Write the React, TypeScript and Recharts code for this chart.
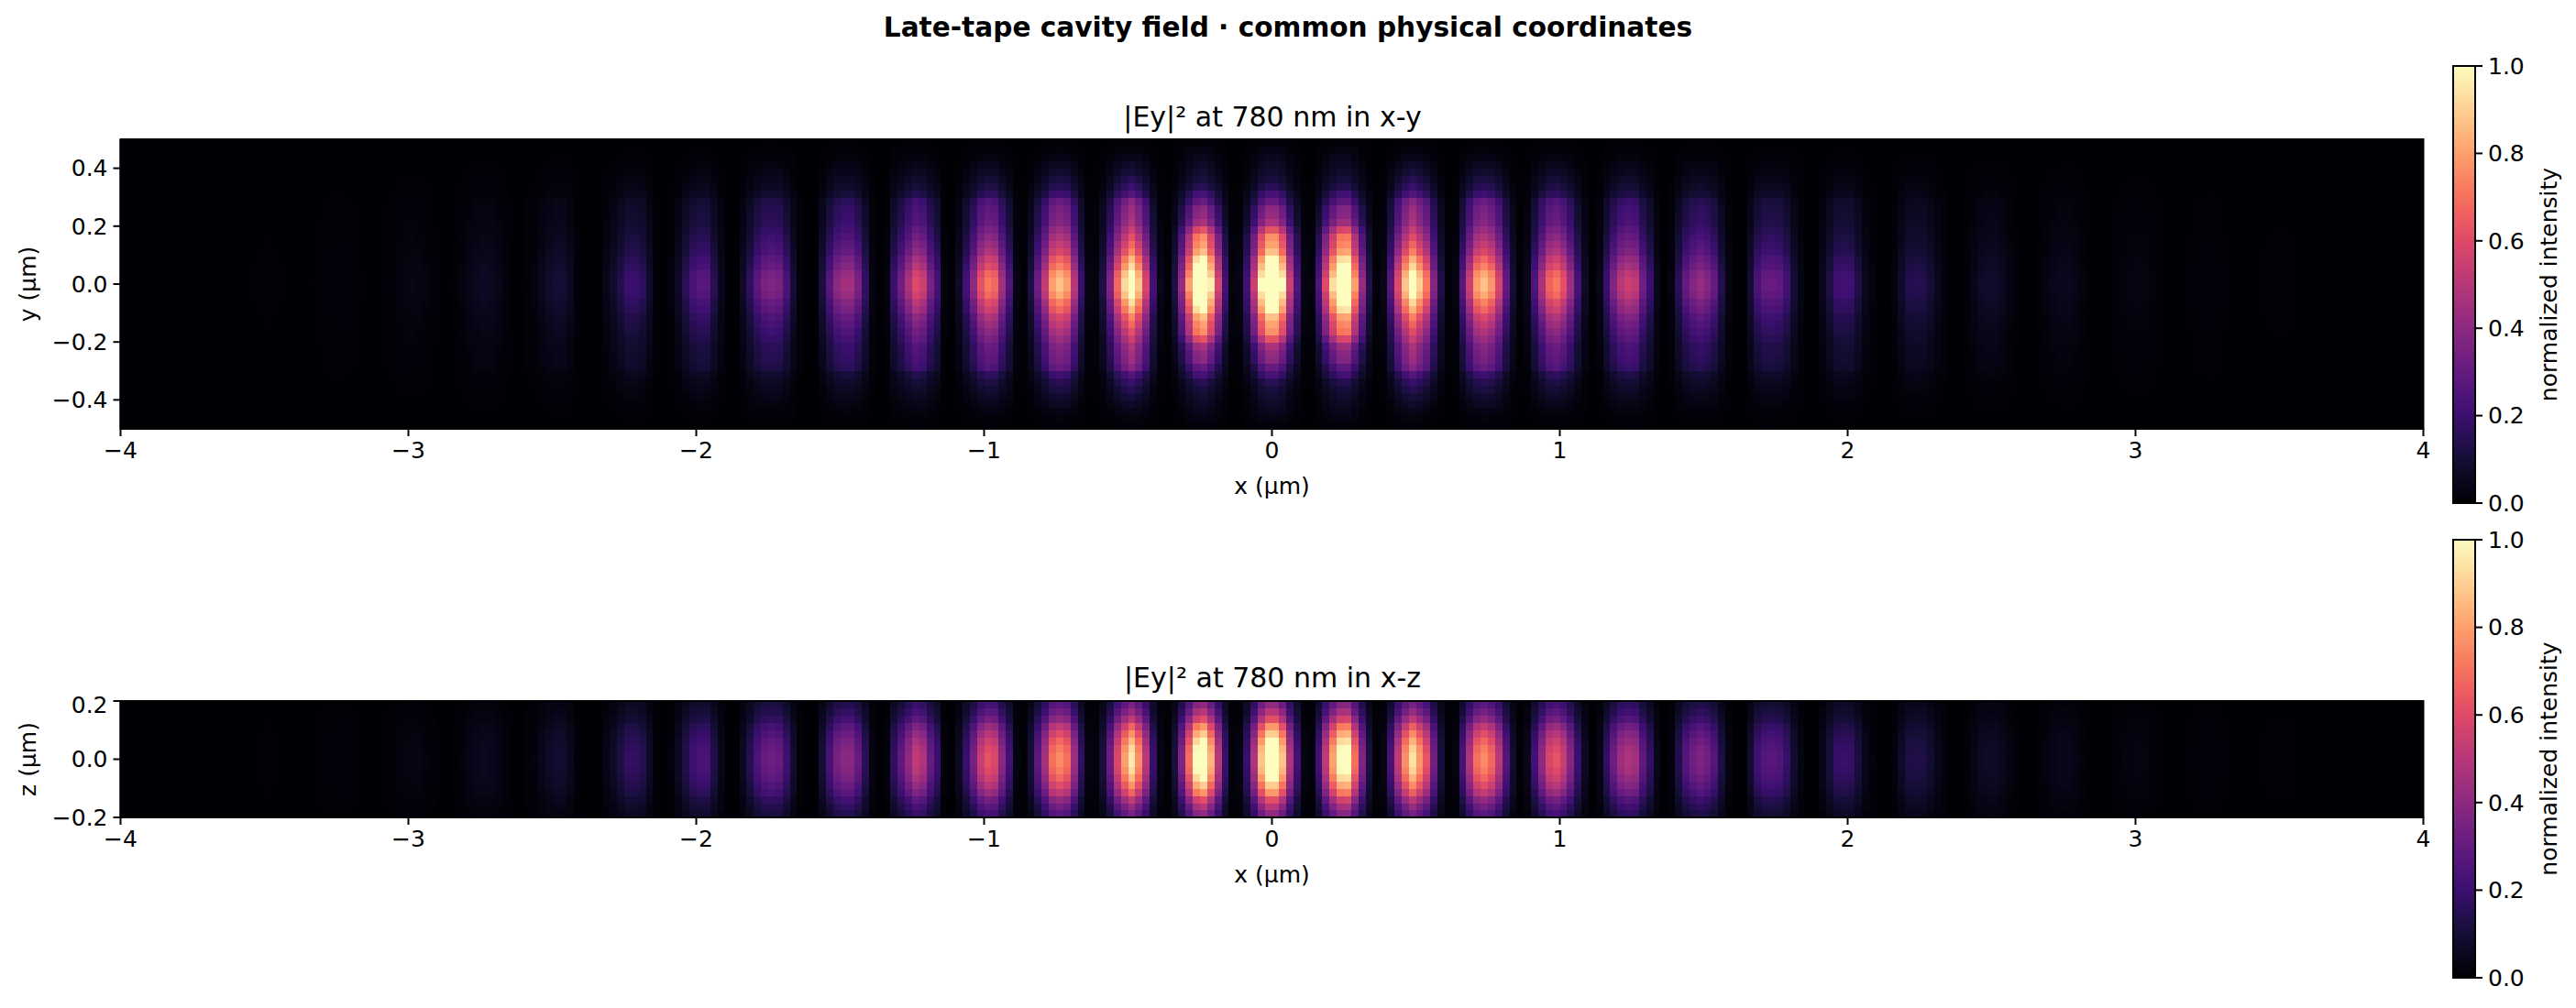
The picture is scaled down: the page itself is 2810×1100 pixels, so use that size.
import React from 'react';
import {
  Bar,
  BarChart,
  Label,
  ReferenceArea,
  Scatter,
  ScatterChart,
  XAxis,
  YAxis,
} from 'recharts';

const FONT = '"DejaVu Sans", sans-serif';

const TITLE = 'Late-tape cavity field · common physical coordinates';
const XY_TITLE = '|Ey|² at 780 nm in x-y';
const XZ_TITLE = '|Ey|² at 780 nm in x-z';

const X_TICKS = [-4, -3, -2, -1, 0, 1, 2, 3, 4];
const Y_TICKS = [-0.4, -0.2, 0, 0.2, 0.4];
const Z_TICKS = [-0.2, 0, 0.2];
const BAR_TICKS = [0, 0.2, 0.4, 0.6, 0.8, 1];

// each cell below is this column value times a row value, not read one by one
const xProfile = [
  0, 0, 0, 0, 0, 0, 0.001, 0.001, 0.002, 0.002,
  0.003, 0.002, 0.002, 0.001, 0, 0, 0.001, 0.002, 0.004, 0.005,
  0.006, 0.005, 0.004, 0.002, 0, 0, 0.001, 0.004, 0.008, 0.012,
  0.015, 0.013, 0.009, 0.004, 0.001, 0, 0.003, 0.009, 0.018, 0.026,
  0.035, 0.03, 0.02, 0.008, 0.002, 0.001, 0.006, 0.02, 0.04, 0.055,
  0.065, 0.058, 0.04, 0.018, 0.003, 0.001, 0.01, 0.02, 0.05, 0.08,
  0.1, 0.1, 0.06, 0.01, 0, 0, 0, 0.04, 0.08, 0.14,
  0.2, 0.2, 0.17, 0.08, 0.01, 0, 0.02, 0.07, 0.16, 0.24,
  0.27, 0.27, 0.15, 0.05, 0, 0, 0.07, 0.17, 0.28, 0.35,
  0.37, 0.35, 0.24, 0.1, 0.01, 0, 0, 0.12, 0.27, 0.4,
  0.45, 0.45, 0.35, 0.18, 0.03, 0, 0.02, 0.2, 0.33, 0.47,
  0.6, 0.55, 0.35, 0.23, 0.02, 0, 0.07, 0.22, 0.4, 0.62,
  0.72, 0.68, 0.45, 0.25, 0.03, 0.01, 0.12, 0.32, 0.53, 0.8,
  0.87, 0.8, 0.5, 0.2, 0.03, 0.02, 0.13, 0.37, 0.68, 0.92,
  1.1, 0.88, 0.58, 0.22, 0.04, 0.01, 0.13, 0.42, 0.8, 1.18,
  1.28, 0.97, 0.58, 0.22, 0.02, 0.03, 0.22, 0.55, 1.01, 1.28,
  1.28, 1.01, 0.55, 0.25, 0.03, 0.02, 0.25, 0.6, 0.93, 1.18,
  1.2, 0.8, 0.42, 0.14, 0.01, 0.04, 0.27, 0.6, 0.88, 1.08,
  0.9, 0.72, 0.38, 0.13, 0.01, 0.03, 0.27, 0.55, 0.8, 0.87,
  0.78, 0.58, 0.3, 0.1, 0.01, 0.05, 0.25, 0.47, 0.67, 0.72,
  0.62, 0.44, 0.23, 0.07, 0, 0.04, 0.2, 0.37, 0.5, 0.55,
  0.52, 0.33, 0.2, 0.05, 0, 0.02, 0.16, 0.3, 0.38, 0.42,
  0.38, 0.3, 0.14, 0.03, 0, 0, 0.1, 0.24, 0.3, 0.31,
  0.29, 0.22, 0.1, 0.03, 0, 0, 0.05, 0.13, 0.21, 0.22,
  0.21, 0.13, 0.05, 0.02, 0, 0, 0.02, 0.08, 0.14, 0.15,
  0.14, 0.1, 0.05, 0.015, 0, 0, 0.01, 0.04, 0.07, 0.08,
  0.08, 0.06, 0.03, 0.008, 0, 0, 0.006, 0.022, 0.04, 0.05,
  0.052, 0.04, 0.02, 0.005, 0, 0, 0.003, 0.012, 0.022, 0.028,
  0.03, 0.024, 0.012, 0.003, 0, 0, 0.002, 0.006, 0.011, 0.014,
  0.015, 0.012, 0.006, 0.002, 0, 0, 0.001, 0.003, 0.005, 0.006,
  0.007, 0.006, 0.003, 0.001, 0, 0, 0, 0.001, 0.002, 0.002,
  0.002, 0.002, 0.001, 0, 0, 0, 0, 0, 0, 0,
];

// rows of the x-y panel for the three lobes around x = 0, y = -0.5 to 0.5
const yProfileCore = [
  0.01, 0.025, 0.04, 0.055, 0.07, 0.09, 0.12, 0.18, 0.24, 0.31,
  0.33, 0.37, 0.49, 0.6, 0.63, 0.68, 0.79, 0.85, 0.92, 1,
  1, 0.92, 0.85, 0.79, 0.68, 0.63, 0.6, 0.49, 0.37, 0.33,
  0.31, 0.24, 0.18, 0.12, 0.09, 0.07, 0.055, 0.04, 0.025, 0.01,
];

// rows of the x-y panel for the lobes further out
const yProfileOuter = [
  0.01, 0.02, 0.04, 0.07, 0.1, 0.14, 0.18, 0.24, 0.36, 0.4,
  0.42, 0.44, 0.5, 0.56, 0.62, 0.68, 0.78, 0.85, 0.95, 1,
  1, 0.95, 0.85, 0.78, 0.68, 0.62, 0.56, 0.5, 0.44, 0.42,
  0.4, 0.36, 0.24, 0.18, 0.14, 0.1, 0.07, 0.04, 0.02, 0.01,
];

// rows of the x-z panel, z = -0.2 to 0.2
const zProfile = [
  0.32, 0.39, 0.48, 0.61, 0.7, 0.78, 0.84, 0.87,
  0.87, 0.84, 0.78, 0.7, 0.61, 0.48, 0.39, 0.32,
];

const MAGMA = [
  '#000004', '#140e36', '#3b0f70', '#641a80', '#8c2981', '#b73779',
  '#de4968', '#f7705c', '#fe9f6d', '#fecf92', '#fcfdbf',
];

const CELL_W = 2512 / xProfile.length;
const CORE_HALF_WIDTH = 0.37;

function magma(v: number) {
  const t = Math.max(0, Math.min(1, v)) * (MAGMA.length - 1);
  const i = Math.min(Math.floor(t), MAGMA.length - 2);
  const f = t - i;
  const a = MAGMA[i];
  const b = MAGMA[i + 1];
  const ch = (p: number) => {
    const c1 = parseInt(a.slice(p, p + 2), 16);
    const c2 = parseInt(b.slice(p, p + 2), 16);
    return Math.round(c1 + (c2 - c1) * f);
  };
  return `rgb(${ch(1)},${ch(3)},${ch(5)})`;
}

function buildCells(core: number[], outer: number[], halfHeight: number) {
  const out: { x: number; y: number; v: number }[] = [];
  core.forEach((_, j) => {
    const y = -halfHeight + ((j + 0.5) * 2 * halfHeight) / core.length;
    xProfile.forEach((c, i) => {
      const x = -4 + ((i + 0.5) * 8) / xProfile.length;
      const r = Math.abs(x) < CORE_HALF_WIDTH ? core[j] : outer[j];
      out.push({ x, y, v: c * r });
    });
  });
  return out;
}

const fmtX = (v: number) => (v < 0 ? `\u2212${-v}` : `${v}`);
const fmtY = (v: number) => (v < 0 ? `\u2212${(-v).toFixed(1)}` : v.toFixed(1));

const tickStyle = { fontSize: 25, fontFamily: FONT, fill: '#000' };
const tickLine = { stroke: '#000', strokeWidth: 2 };
const axisLine = { stroke: '#000', strokeWidth: 2 };
const labelStyle = { fontSize: 25, fontFamily: FONT, fill: '#000' };

function Heatmap({ core, outer, half, ticks, yName, height, top, title, titleTop }: any) {
  const cells = React.useMemo(() => buildCells(core, outer, half), [core, outer, half]);
  const cellH = height / core.length;
  const MARGIN_TOP = 10;
  const AXIS_H = 90;
  return (
    <>
      <div
        style={{
          position: 'absolute',
          left: 1088,
          width: 600,
          top: titleTop,
          textAlign: 'center',
          fontSize: 30,
          fontFamily: FONT,
          color: '#000',
          lineHeight: '36px',
        }}
      >
        {title}
      </div>
      <div style={{ position: 'absolute', left: 0, top: top - MARGIN_TOP }}>
        <ScatterChart
          width={2680}
          height={height + MARGIN_TOP + AXIS_H}
          margin={{ top: MARGIN_TOP, right: 36.5, bottom: 0, left: 31.5 }}
        >
          <XAxis
            type="number"
            dataKey="x"
            domain={[-4, 4]}
            ticks={X_TICKS}
            allowDataOverflow
            height={AXIS_H}
            tickFormatter={fmtX}
            tick={tickStyle}
            tickSize={8}
            tickMargin={6}
            tickLine={tickLine}
            axisLine={axisLine}
          >
            <Label value="x (µm)" position="insideBottom" offset={19} style={labelStyle} />
          </XAxis>
          <YAxis
            type="number"
            dataKey="y"
            domain={[-half, half]}
            ticks={ticks}
            allowDataOverflow
            width={100}
            tickFormatter={fmtY}
            tick={tickStyle}
            tickSize={8}
            tickMargin={6}
            tickLine={tickLine}
            axisLine={axisLine}
          >
            <Label value={yName} angle={-90} position="insideLeft" offset={-1} style={{ ...labelStyle, textAnchor: 'middle' }} />
          </YAxis>
          <Scatter
            data={cells}
            isAnimationActive={false}
            shape={(p: any) => (
              <rect
                x={p.cx - CELL_W / 2}
                y={p.cy - cellH / 2}
                width={CELL_W + 0.4}
                height={cellH + 0.4}
                fill={magma(p.payload.v)}
                shapeRendering="crispEdges"
              />
            )}
          />
          <ReferenceArea x1={-4} x2={4} y1={-half} y2={half} fill="none" stroke="#000" strokeWidth={2} zIndex={1000} />
        </ScatterChart>
      </div>
    </>
  );
}

function ColorBar({ top, height, id }: { top: number; height: number; id: string }) {
  const MARGIN = 30;
  return (
    <div style={{ position: 'absolute', left: 2660, top: top - MARGIN }}>
      <BarChart
        width={150}
        height={height + 2 * MARGIN}
        data={[{ level: 1 }]}
        barCategoryGap={0}
        margin={{ top: MARGIN, right: 0, bottom: MARGIN, left: 16 }}
      >
        <defs>
          <linearGradient id={id} x1="0" y1="1" x2="0" y2="0">
            {MAGMA.map((c, i) => (
              <stop key={c} offset={i / (MAGMA.length - 1)} stopColor={c} />
            ))}
          </linearGradient>
        </defs>
        <XAxis hide />
        <YAxis
          orientation="right"
          type="number"
          domain={[0, 1]}
          ticks={BAR_TICKS}
          width={110}
          tickFormatter={(v: number) => v.toFixed(1)}
          tick={tickStyle}
          tickSize={8}
          tickMargin={6}
          tickLine={tickLine}
          axisLine={false}
        >
          <Label
            value="normalized intensity"
            angle={-90}
            position="insideRight"
            offset={30}
            style={{ ...labelStyle, textAnchor: 'middle' }}
          />
        </YAxis>
        <Bar dataKey="level" fill={`url(#${id})`} stroke="#000" strokeWidth={2} isAnimationActive={false} />
      </BarChart>
    </div>
  );
}

export default function App() {
  return (
    <div style={{ position: 'absolute', left: 0, top: 0, width: 2810, height: 1100, background: '#fff', overflow: 'hidden' }}>
      <div
        style={{
          position: 'absolute',
          left: 0,
          width: 2810,
          top: 12,
          textAlign: 'center',
          fontSize: 29.6,
          fontWeight: 700,
          fontFamily: FONT,
          color: '#000',
          lineHeight: '36px',
        }}
      >
        {TITLE}
      </div>
      <Heatmap core={yProfileCore} outer={yProfileOuter} half={0.5} ticks={Y_TICKS} yName="y (µm)" height={316} top={152} title={XY_TITLE} titleTop={110} />
      <Heatmap core={zProfile} outer={zProfile} half={0.2} ticks={Z_TICKS} yName="z (µm)" height={127} top={765} title={XZ_TITLE} titleTop={722} />
      <ColorBar top={72} height={477} id="magmaTop" />
      <ColorBar top={589} height={478} id="magmaBottom" />
    </div>
  );
}
